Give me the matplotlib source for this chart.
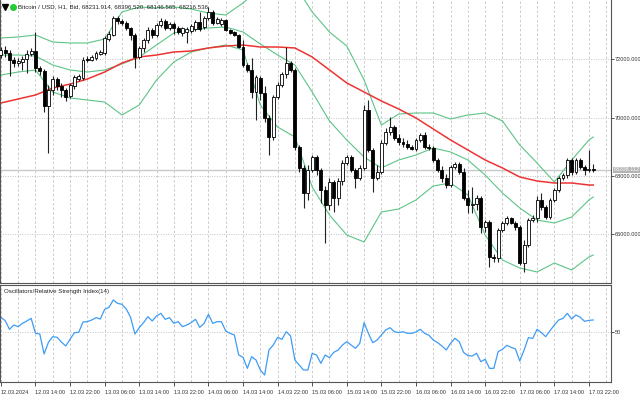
import matplotlib
matplotlib.use("Agg")
import numpy as np
from matplotlib import pyplot as plt
from matplotlib import transforms

plt.rcParams['font.family'] = ['Liberation Sans', 'DejaVu Sans']

# hourly candles, 12.03.2024 06:00 ... 17.03 23:00
opens = [72150, 72320, 72220, 71980, 71870, 71910, 72010, 72180, 72290, 71700,
         71600, 70400, 70950, 71320, 71080, 70950, 70740, 71080, 71320, 71360,
         72010, 71980, 72040, 72180, 72220, 72700, 72830, 73420, 73310, 73250,
         73070, 72830, 72080, 72390, 72660, 73000, 72830, 73180, 73310, 73070,
         73210, 73070, 72900, 72940, 72970, 73040, 73280, 73110, 73420, 73620,
         73250, 73210, 73350, 73000, 72940, 72830, 72420, 71800, 71630, 70880,
         71360, 70840, 69990, 69330, 70710, 71120, 71500, 71870, 71630, 68990,
         68270, 67410, 68200, 68650, 68200, 67520, 67000, 67790, 67240, 67830,
         68440, 68650, 68200, 67930, 68270, 70260, 68890, 67930, 68130, 69130,
         69510, 69680, 69300, 69160, 69100, 68990, 68920, 69230, 69400, 68990,
         68960, 68550, 68200, 67930, 67690, 68310, 68410, 68130, 67240, 67000,
         67040, 67240, 66250, 66420, 65220, 65190, 66150, 66390, 66560, 66390,
         66250, 65010, 65630, 66490, 66560, 67170, 66930, 66590, 67170, 67520,
         67930, 68030, 68550, 68130, 68550, 68310, 68200, 68231.914]
highs = [72420, 72460, 72320, 72080, 72040, 72110, 72320, 72390, 72940, 71770,
         71670, 71120, 71430, 71390, 71190, 71020, 71190, 71460, 71500, 72080,
         72110, 72150, 72290, 72320, 72800, 72970, 73490, 73490, 73380, 73310,
         73110, 72900, 72460, 72730, 73110, 73070, 73250, 73420, 73380, 73280,
         73280, 73140, 73110, 73110, 73210, 73350, 73620, 73490, 73790, 73690,
         73450, 73420, 73380, 73040, 72970, 72870, 72660, 71870, 72040, 71460,
         71430, 71080, 70090, 70780, 71220, 71560, 72420, 71940, 71700, 69060,
         68370, 68370, 68720, 68720, 68270, 67650, 67930, 67860, 67930, 68550,
         68720, 68720, 68270, 68370, 70430, 70600, 68960, 68370, 69230, 69640,
         70020, 69750, 69440, 69300, 69230, 69060, 69300, 69470, 69510, 69100,
         69030, 68620, 68340, 68070, 68370, 68480, 68480, 68270, 67520, 67620,
         67340, 67310, 66490, 66490, 65320, 66210, 66450, 66630, 66590, 66450,
         66320, 65800, 66560, 66660, 67310, 67410, 67000, 67240, 67590, 67990,
         68100, 68610, 68610, 68610, 68610, 68370, 68890, 68396.520]
lows = [72040, 72080, 71430, 71740, 71770, 71630, 71530, 72110, 71560, 71460,
        70190, 68790, 70780, 70950, 70710, 70570, 70670, 70980, 71260, 71290,
        71910, 71940, 71980, 72150, 72150, 72630, 72800, 73210, 73180, 73000,
        72660, 71700, 72010, 72250, 72560, 72730, 72770, 73110, 73000, 73000,
        72870, 72870, 72800, 72560, 72900, 72970, 72970, 73040, 73350, 73180,
        73210, 73140, 72970, 72870, 72800, 72390, 71740, 71560, 70670, 69920,
        70600, 69850, 68720, 69230, 70640, 71050, 71360, 71560, 68890, 68130,
        66900, 67170, 68130, 68030, 67070, 65700, 66830, 66760, 67000, 67690,
        68370, 68130, 67590, 67860, 68200, 68820, 67450, 67860, 68070, 69060,
        69400, 69230, 69060, 68990, 68920, 68890, 68850, 69160, 68920, 68890,
        68480, 68130, 67790, 67590, 67620, 68240, 68070, 67170, 66730, 66730,
        66830, 66040, 66080, 64880, 65050, 65050, 66080, 66320, 66350, 66150,
        64940, 64700, 65560, 66420, 66420, 66830, 66520, 66520, 67100, 67450,
        67860, 67930, 68030, 68070, 68240, 68030, 68130, 68146.565]
closes = [72320, 72220, 71980, 71870, 71940, 72010, 72180, 72290, 71700, 71600,
          70400, 70950, 71320, 71080, 70950, 70710, 71120, 71390, 71430, 71980,
          71980, 72080, 72220, 72250, 72730, 72870, 73420, 73310, 73250, 73070,
          72830, 72080, 72390, 72660, 73000, 72830, 73180, 73310, 73070, 73210,
          73070, 72940, 73070, 73040, 73140, 73280, 73040, 73420, 73620, 73250,
          73380, 73350, 73000, 72900, 72830, 72420, 71800, 71630, 70880, 71390,
          70840, 69990, 69330, 70710, 71120, 71500, 71870, 71630, 68990, 68270,
          67410, 68200, 68650, 68200, 67520, 67000, 67790, 67240, 67830, 68440,
          68650, 68200, 67930, 68270, 70260, 68890, 67930, 68130, 69130, 69510,
          69680, 69300, 69160, 69100, 68990, 68920, 69230, 69400, 68990, 68960,
          68550, 68200, 67930, 67690, 68310, 68410, 68130, 67240, 67000, 67040,
          67240, 66250, 66420, 65220, 65190, 66150, 66390, 66560, 66390, 66250,
          65010, 65630, 66490, 66560, 67170, 66930, 66590, 67170, 67520, 67930,
          68030, 68550, 68130, 68550, 68310, 68200, 68240, 68216.536]

# indicators, sampled every 4 hours
band_hours = list(range(0, 137, 4)) + [137]
bb_upper = [72730, 72765, 72834, 72593, 72559, 72559, 72696, 73622, 73794, 73760,
            73794, 73725, 73588, 73519, 73931, 74446, 74720, 74549, 73622, 72936,
            72456, 71290, 69746, 70124, 70158, 70158, 69952, 70089, 70158, 69884,
            69060, 68443, 67791, 68546, 69232, 69335]
bb_middle = [72147, 72147, 72113, 71804, 71633, 71564, 71633, 71839, 72079, 72490,
             72902, 73005, 73074, 73108, 72936, 72525, 72147, 71804, 70878, 69884,
             69232, 68649, 68272, 68546, 68717, 68958, 68820, 68546, 68031, 67414,
             66900, 66488, 66385, 66591, 67174, 67277]
bb_lower = [71461, 71564, 71633, 70878, 70673, 70604, 70535, 70089, 70432, 71290,
            71907, 72250, 72388, 72490, 72319, 70432, 69678, 69335, 67620, 66659,
            65973, 65733, 66762, 66865, 67174, 67654, 67757, 67345, 65973, 65116,
            64842, 64704, 65013, 64773, 65219, 65288]
ma_red = [70501, 70638, 70775, 71016, 71150, 71324, 71564, 71873, 72079, 72147,
          72250, 72285, 72388, 72456, 72490, 72422, 72422, 72388, 72079, 71633,
          71187, 70878, 70570, 70295, 69987, 69609, 69232, 68889, 68546, 68272,
          67963, 67826, 67757, 67757, 67688, 67688]

rsi = [58.6, 56.6, 51.4, 54.0, 53.0, 55.0, 56.4, 58.0, 49.0, 48.6,
       36.6, 43.6, 47.0, 46.6, 43.8, 41.4, 45.4, 49.4, 49.6, 55.8,
       56.0, 57.0, 58.4, 57.6, 63.4, 64.6, 69.0, 67.0, 66.4, 63.6,
       58.6, 48.6, 52.4, 55.4, 59.0, 56.4, 59.4, 61.0, 57.4, 58.4,
       55.0, 56.0, 53.0, 54.0, 55.4, 57.4, 52.6, 55.0, 60.4, 55.0,
       56.0, 56.0, 50.4, 49.0, 48.0, 36.0, 34.6, 28.0, 35.0, 33.0,
       27.0, 24.0, 39.0, 42.0, 46.6, 45.4, 50.0, 47.4, 33.0, 30.0,
       27.0, 27.0, 37.0, 36.0, 31.0, 36.0, 34.4, 37.6, 39.0, 42.0,
       44.0, 42.0, 40.0, 43.0, 55.4, 49.0, 43.4, 45.0, 48.0, 51.0,
       52.4, 50.0, 49.4, 50.0, 49.0, 49.0, 49.8, 51.4, 49.0, 47.8,
       45.0, 43.4, 41.4, 39.0, 43.0, 46.0, 44.0, 37.6, 35.6, 35.4,
       37.0, 32.0, 33.4, 28.0, 28.0, 38.0, 39.4, 41.8, 40.6, 39.6,
       32.4, 39.0, 46.4, 46.0, 51.4, 49.4, 47.0, 50.6, 54.0, 57.0,
       58.0, 61.0, 57.6, 60.0, 58.6, 56.2, 56.8, 57.0]

label_hours = list(range(0, 137, 8))
time_labels = ["12.03.2024", "12.03 14:00", "12.03 22:00", "13.03 06:00", "13.03 14:00",
               "13.03 22:00", "14.03 06:00", "14.03 14:00", "14.03 22:00", "15.03 06:00",
               "15.03 14:00", "15.03 22:00", "16.03 06:00", "16.03 14:00", "16.03 22:00",
               "17.03 06:00", "17.03 14:00", "17.03 22:00"]
price_ticks = [66000, 68000, 70000, 72000]
last_price = 68208.112
header = "Bitcoin / USD, H1, Bid, 68231.914, 68396.520, 68146.565, 68216.536"

hours = np.arange(len(closes))
o = np.array(opens)
c = np.array(closes)
up = c >= o

fs = 4.1
fig = plt.figure(figsize=(6.4, 4.04), dpi=100)
ax = fig.add_axes([0, 1 - 283 / 404, 611 / 640, 283 / 404])
ax_rsi = fig.add_axes([0, 1 - 382 / 404, 611 / 640, 97 / 404])

grid_col = "#c4c4c4"
frame_col = "#555555"
for a in (ax, ax_rsi):
    a.set_xlim(-0.2, 141.1)
    for h in range(0, 141, 4):
        a.axvline(h, color=grid_col, lw=0.6, ls=(0, (3, 2.5)), zorder=0)
    for s in a.spines.values():
        s.set_color(frame_col)
        s.set_linewidth(0.8)

# main panel
ax.set_ylim(64327, 74034)
ax.spines["top"].set_visible(False)
for p in price_ticks:
    ax.axhline(p, color=grid_col, lw=0.7, ls=(0, (1, 1.5)), zorder=0)
ax.axhline(last_price, color="#c8c8c8", lw=1.0, zorder=1)

ax.plot(band_hours, bb_upper, color="#5cc486", lw=0.8, zorder=2)
ax.plot(band_hours, bb_middle, color="#5cc486", lw=0.8, zorder=2)
ax.plot(band_hours, bb_lower, color="#5cc486", lw=0.8, zorder=2)
ax.plot(band_hours, ma_red, color="#ee3333", lw=1.1, zorder=2)

ax.vlines(hours, lows, highs, color="#222222", lw=0.8, zorder=3)
body = np.where(np.abs(c - o) < 15, 15, c - o)
ax.bar(hours[up], body[up], bottom=o[up], width=0.68, color="white",
       edgecolor="black", linewidth=0.6, zorder=4)
ax.bar(hours[~up], body[~up], bottom=o[~up], width=0.68, color="black",
       edgecolor="black", linewidth=0.6, zorder=4)

ax.set_xticks([])
ax.yaxis.tick_right()
ax.set_yticks(price_ticks)
ax.set_yticklabels([f"{p:.3f}" for p in price_ticks])
ax.tick_params(axis="y", length=2, width=0.6, pad=0.8, labelsize=fs, colors="#333333")

tr = transforms.blended_transform_factory(ax.transAxes, ax.transData)
ax.text(1.004, last_price, f"{last_price:.3f}", transform=tr, fontsize=fs,
        color="white", va="center", ha="left",
        bbox=dict(boxstyle="square,pad=0.12", fc="#b4b4b4", ec="none"))

ax.plot([0.008], [0.977], marker="v", color="black", ms=4.5,
        transform=ax.transAxes, clip_on=False)
ax.plot([0.022], [0.977], marker="o", color="#22cc33", ms=4,
        transform=ax.transAxes, clip_on=False)
ax.text(0.029, 0.977, header, transform=ax.transAxes, fontsize=4.4,
        va="center", ha="left", color="#222222")

# RSI panel
ax_rsi.set_ylim(19.8, 78.0)
ax_rsi.axhline(50, color=grid_col, lw=0.7, ls=(0, (1, 1.5)), zorder=0)
ax_rsi.plot(hours, rsi, color="#3d9cf5", lw=0.9, zorder=2)
ax_rsi.text(0.006, 0.93, "Oscillators/Relative Strength Index(14)",
            transform=ax_rsi.transAxes, fontsize=4.4, va="center", ha="left",
            color="#222222")
ax_rsi.yaxis.tick_right()
ax_rsi.set_yticks([50])
ax_rsi.set_yticklabels(["50"])
ax_rsi.tick_params(axis="y", length=2, width=0.6, pad=0.8, labelsize=fs, colors="#333333")
ax_rsi.set_xticks(label_hours)
ax_rsi.set_xticklabels(time_labels, ha="left")
ax_rsi.tick_params(axis="x", length=3, width=0.6, pad=3, labelsize=fs, colors="#333333")

fig.savefig("out.png", dpi=100)
